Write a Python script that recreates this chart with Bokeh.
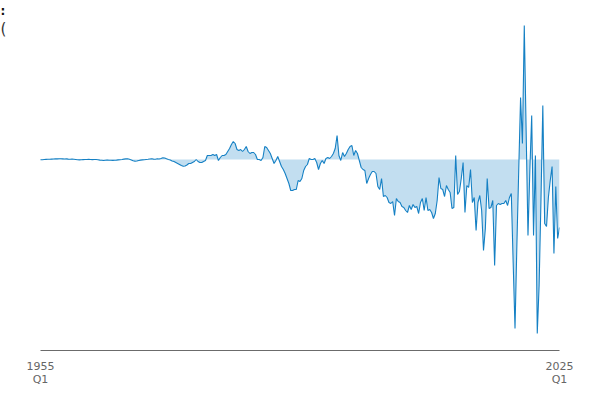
from bokeh.plotting import figure
from bokeh.models import Range1d, FixedTicker, Label, ColumnDataSource, LinearAxis
from bokeh.embed import file_html
from bokeh.resources import INLINE

start_year = 1955
end_year = 2025
tick_years = [1955, 2025]
tick_year_labels = ["1955", "2025"]
tick_quarter_labels = ["Q1", "Q1"]

values = [
    -0.03, -0.02, 0.00, 0.01, 0.02, 0.03, 0.04, 0.05, 0.06, 0.06,
    0.07, 0.07, 0.06, 0.05, 0.06, 0.04, 0.03, 0.04, 0.02, 0.00,
    -0.03, -0.04, -0.02, -0.01, 0.00, 0.00, 0.01, 0.00, -0.01, 0.00,
    0.00, -0.02, -0.06, -0.08, -0.10, -0.08, -0.06, -0.07, -0.08, -0.09,
    -0.07, -0.06, -0.04, -0.03, 0.00, 0.04, 0.06, 0.08, 0.02, -0.04,
    -0.12, -0.18, -0.15, -0.10, -0.06, -0.04, -0.02, 0.00, 0.02, 0.05,
    0.07, 0.04, 0.02, 0.07, 0.05, 0.10, 0.17, 0.15, 0.07, 0.00,
    -0.05, -0.15, -0.20, -0.30, -0.40, -0.50, -0.60, -0.67, -0.65, -0.55,
    -0.40, -0.40, -0.30, -0.20, 0.00, -0.20, -0.30, -0.30, -0.20, -0.10,
    0.40, 0.40, 0.40, 0.50, 0.40, 0.50, -0.10, 0.20, 0.40, 0.40,
    0.50, 0.80, 1.10, 1.50, 1.80, 1.60, 1.00, 0.90, 1.00, 0.80,
    1.00, 1.30, 0.80, 0.60, 0.70, 0.70, 0.50, 0.00, 0.00, -0.10,
    0.20, 1.30, 1.20, 0.90, 0.60, 0.10, -0.40, -0.10, 0.30, -0.20,
    -0.70, -1.00, -1.40, -1.90, -2.40, -3.10, -3.10, -3.00, -3.00, -2.10,
    -2.20, -1.90, -1.10, -0.70, -0.50, 0.10, 0.00, 0.00, 0.10, -0.30,
    -1.00, -0.40, -0.10, -0.40, 0.10, 0.20, 0.10, 0.30, 0.60, 1.10,
    2.40, 0.40, -0.10, 0.70, 0.30, 0.60, 1.00, 1.30, 1.40, 0.40,
    0.90, 0.60, -0.10, -0.80, -1.00, -1.10, -2.40, -1.90, -1.50, -1.20,
    -1.20, -1.40, -2.70, -3.00, -1.90, -3.70, -3.60, -3.80, -4.30, -4.40,
    -4.20, -5.60, -3.90, -4.20, -4.30, -4.70, -4.80, -5.10, -5.30, -4.60,
    -5.00, -4.50, -4.80, -4.70, -5.40, -4.30, -3.90, -5.10, -3.80, -5.10,
    -5.00, -5.30, -5.90, -5.40, -4.10, -1.80, -2.90, -3.00, -3.70, -2.60,
    -3.00, -3.30, -4.90, -4.80, 0.40, -3.50, -3.20, -1.90, -0.30, -5.30,
    -2.60, -2.80, -1.00, -4.30, -3.80, -7.10, -4.30, -3.60, -5.10, -9.10,
    -6.90, -1.90, -4.90, -4.80, -4.10, -10.60, -4.60, -4.40, -4.50, -4.40,
    -4.40, -4.10, -4.60, -3.80, -3.40, -10.30, -16.90, -8.60, -1.10, 6.20,
    1.60, 13.40, 2.90, -7.60, -1.10, 4.40, -7.60, 0.40, -17.40, -12.60,
    -4.10, 5.40, -6.40, -6.70, -3.80, -2.10, -0.70, -9.40, -2.70, -7.90,
    -6.80,
]

quarters = [start_year + i / 4 for i in range(len(values))]
zeros = [0.0] * len(values)

src = ColumnDataSource(dict(x=quarters, y=values, z=zeros))

W, H = 584, 388
BB, BR = 38, 25
frame_w = W - BR            # frame spans the canvas from its left edge
frame_h = H - BB            # and from its top edge
left_pad_px = 40            # where 1955 Q1 sits inside the frame
span = (end_year - start_year) * frame_w / (frame_w - left_pad_px)
x_start = end_year - span

p = figure(width=W, height=H, output_backend="svg", toolbar_location=None,
           x_range=Range1d(x_start, end_year), y_range=Range1d(-19.1, 15.9),
           x_axis_location=None, y_axis_location=None,
           min_border_left=0, min_border_right=BR, min_border_top=0,
           min_border_bottom=BB)
p.outline_line_color = None
p.xgrid.visible = False
p.ygrid.visible = False
p.background_fill_color = "white"
p.border_fill_color = "white"

p.varea(x="x", y1="z", y2="y", source=src, fill_color="#c2def0", fill_alpha=1.0)
p.line(x="x", y="y", source=src, line_color="#1580c4", line_width=1.1)


def make_axis(labels, line_color, standoff):
    ax = LinearAxis(bounds=(start_year, end_year))
    ax.ticker = FixedTicker(ticks=tick_years)
    ax.major_label_overrides = {t: l for t, l in zip(tick_years, labels)}
    ax.axis_line_color = line_color
    ax.axis_line_width = 1
    ax.major_tick_line_color = None
    ax.minor_tick_line_color = None
    ax.major_tick_out = 0
    ax.major_tick_in = 0
    ax.major_label_standoff = standoff
    ax.major_label_text_color = "#666666"
    ax.major_label_text_font = "DejaVu Sans"
    ax.major_label_text_font_size = "11px"
    return ax


p.add_layout(make_axis(tick_year_labels, "#6b6b6b", 11), "below")
p.add_layout(make_axis(tick_quarter_labels, None, 0), "below")

# screen coordinates measured from the frame's bottom-left corner
p.add_layout(Label(x=0, y=frame_h - 3, x_units="screen", y_units="screen", text=":",
                   text_font="DejaVu Sans", text_font_size="12px", text_color="#111111",
                   text_font_style="bold", text_baseline="top"))
p.add_layout(Label(x=0, y=frame_h - 19, x_units="screen", y_units="screen", text="(",
                   text_font="DejaVu Sans", text_font_size="15px", text_color="#333333",
                   text_baseline="top"))

open("out.html", "w").write(file_html(p, INLINE))
